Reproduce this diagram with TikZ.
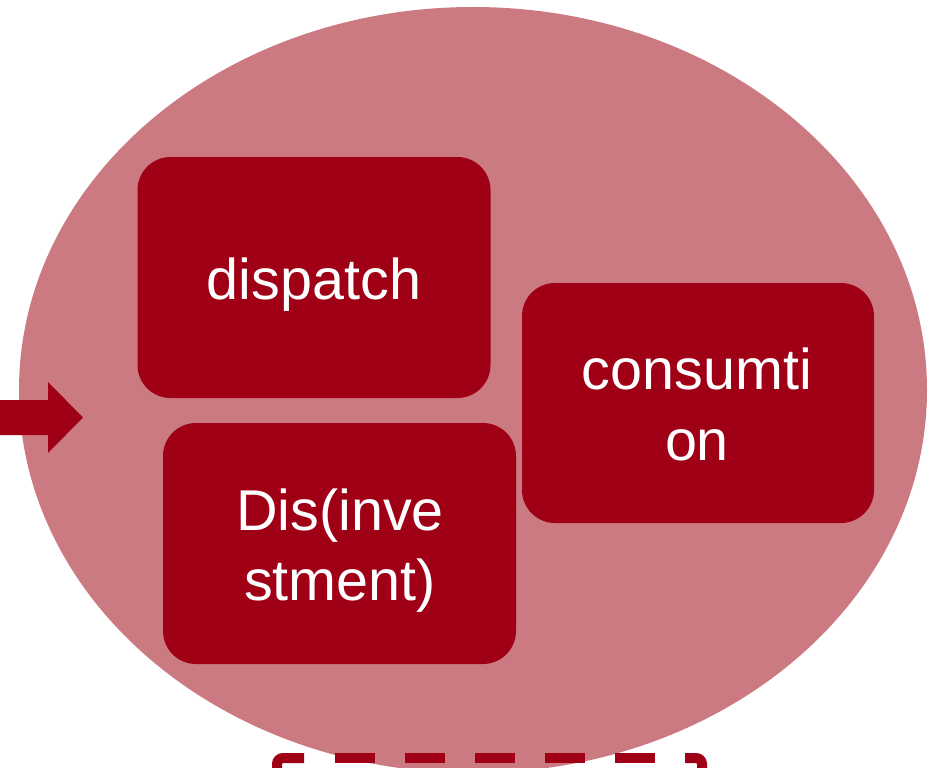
\documentclass[tikz,border=0pt]{standalone}
\usepackage{fontspec}
\setmainfont{Liberation Sans}
\definecolor{ellcol}{RGB}{204,122,130}
\definecolor{boxcol}{RGB}{160,0,22}
\begin{document}
\begin{tikzpicture}[x=1pt,y=-1pt,
  boxnode/.style={fill=boxcol,draw=none,rounded corners=33pt,minimum width=353pt,minimum height=241pt,inner sep=0pt},
  lbl/.style={text=white,font=\fontsize{57.5}{70}\selectfont,inner sep=0pt,anchor=base},
  dashline/.style={draw=boxcol,line width=10pt}]
\useasboundingbox (0,0) rectangle (932,768);
\clip (0,0) rectangle (932,768);
% big ellipse
\fill[ellcol] (473,390) ellipse [x radius=454pt, y radius=383pt];
% arrow
\fill[boxcol] (0,400) -- (48,400) -- (48,382) -- (83,417.5) -- (48,453) -- (48,435) -- (0,435) -- cycle;
% boxes
\node[boxnode] (disp) at (314,277.5) {};
\node[boxnode] (inv) at (339.5,543.5) {};
\node[boxnode,minimum width=352pt,minimum height=240pt] (cons) at (698,403) {};
% labels
\node[lbl] (dispT) at (314,299) {dispatch};
\node[lbl] (invT1) at (340,530) {Dis(inve};
\node[lbl] (invT2) at (340,600) {stment)};
\node[lbl] (consT1) at (697,389) {consumti};
\node[lbl] (consT2) at (697,460) {on};
% dashed frame at bottom
\draw[dashline,line cap=butt,rounded corners=6pt] (277,780) -- (277,758) -- (304,758);
\draw[dashline,line cap=butt,rounded corners=6pt] (685,758) -- (702,758) -- (702,780);
\foreach \a in {335,405,475,545,615}{
  \draw[dashline] (\a,758) -- ++(40,0);
}
\end{tikzpicture}
\end{document}
